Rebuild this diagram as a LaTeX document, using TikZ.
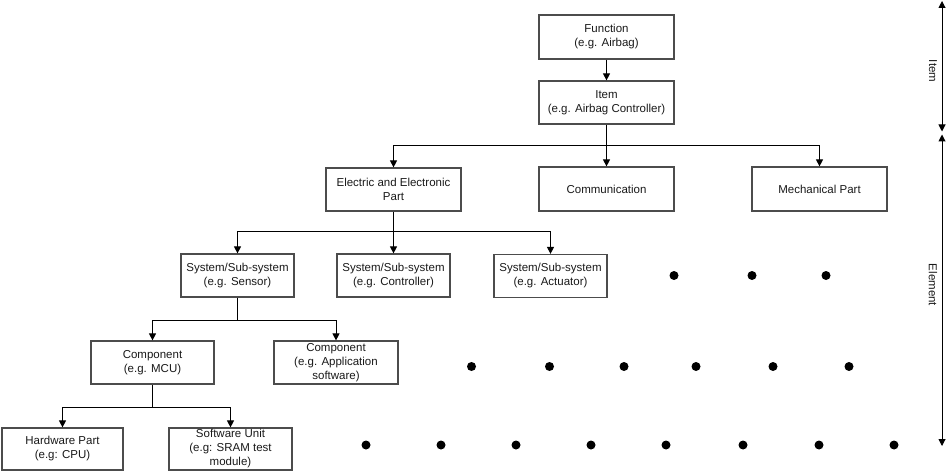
\documentclass[tikz,border=0pt]{standalone}
\usepackage{fontspec}
\setmainfont{Liberation Sans}
\usetikzlibrary{arrows.meta}
\begin{document}
\begin{tikzpicture}[x=1pt,y=-1pt,
  box/.style={draw=black!70,line width=1.2pt,rectangle,inner sep=0pt,align=center,
    font=\fontsize{11.5}{14}\selectfont,text=black!90},
  bigbox/.style={box,minimum width=135pt,minimum height=44pt},
  sysbox/.style={box,minimum width=113pt,minimum height=43pt},
  arr/.style={line width=1pt,-{Triangle[length=7pt,width=7pt]}},
  conn/.style={line width=1pt},
  dot/.style={circle,fill=black,inner sep=0pt,minimum size=9pt},
  lbl/.style={rotate=-90,font=\fontsize{11.5}{14}\selectfont,text=black!90,inner sep=0pt}]
\useasboundingbox (0,0) rectangle (952,473);

% nodes
\node[bigbox] (func) at (606.5,37) {Function\\(e.g. Airbag)};
\node[bigbox,minimum height=43pt] (item) at (606.5,102.5) {Item\\(e.g. Airbag Controller)};
\node[bigbox,minimum height=43pt] (ee) at (393.5,189.5) {Electric and Electronic\\Part};
\node[bigbox] (comm) at (606.5,189) {Communication};
\node[bigbox] (mech) at (819.5,189) {Mechanical Part};
\node[sysbox] (sensor) at (237.5,275.5) {System/Sub-system\\(e.g. Sensor)};
\node[sysbox] (ctrl) at (393.5,275.5) {System/Sub-system\\(e.g. Controller)};
\node[sysbox] (act) at (550.5,276) {System/Sub-system\\(e.g. Actuator)};
\node[box,minimum width=123pt,minimum height=43pt] (mcu) at (152.5,362.5) {Component\\(e.g. MCU)};
\node[box,minimum width=124pt,minimum height=43pt] (app) at (336,362.5) {Component\\(e.g. Application\\software)};
\node[box,minimum width=121pt,minimum height=42pt] (hw) at (62.5,449) {Hardware Part\\(e.g: CPU)};
\node[box,minimum width=123pt,minimum height=42pt] (sw) at (230.5,449) {Software Unit\\(e.g: SRAM test\\module)};

% branch points
\coordinate (b1) at (606.5,146);
\coordinate (b2) at (393.5,231);
\coordinate (b3) at (237.5,320);
\coordinate (b4) at (152.5,407);

% connectors
\draw[arr] (func) -- (item);
\draw[arr] (item) -- (comm);
\draw[arr] (b1) -| (ee);
\draw[arr] (b1) -| (mech);
\draw[arr] (ee) -- (ctrl);
\draw[arr] (b2) -| (sensor);
\draw[arr] (b2) -| (act);
\draw[conn] (sensor) -- (b3);
\draw[arr] (b3) -| (mcu);
\draw[arr] (b3) -| (app);
\draw[conn] (mcu) -- (b4);
\draw[arr] (b4) -| (hw);
\draw[arr] (b4) -| (sw);

% dots
\foreach \x in {674,752,826} \node[dot] at (\x,275.5) {};
\foreach \x in {471.5,549.5,624,696,773,849} \node[dot] at (\x,366.5) {};
\foreach \x in {366,441,516,591,666,743,819,894} \node[dot] at (\x,445) {};

% right axis
\coordinate (ax0) at (942,1);
\coordinate (m1) at (942,131.5);
\coordinate (m2) at (942,134.5);
\coordinate (ax1) at (942,446);
\draw[line width=1pt,{Triangle[length=7pt,width=7pt]}-{Triangle[length=7pt,width=7pt]}] (ax0) -- (m1);
\draw[line width=1pt,{Triangle[length=7pt,width=7pt]}-{Triangle[length=7pt,width=7pt]}] (m2) -- (ax1);
\node[lbl] (litem) at (933,71) {Item};
\node[lbl] (lelem) at (933,285) {Element};
\end{tikzpicture}
\end{document}
